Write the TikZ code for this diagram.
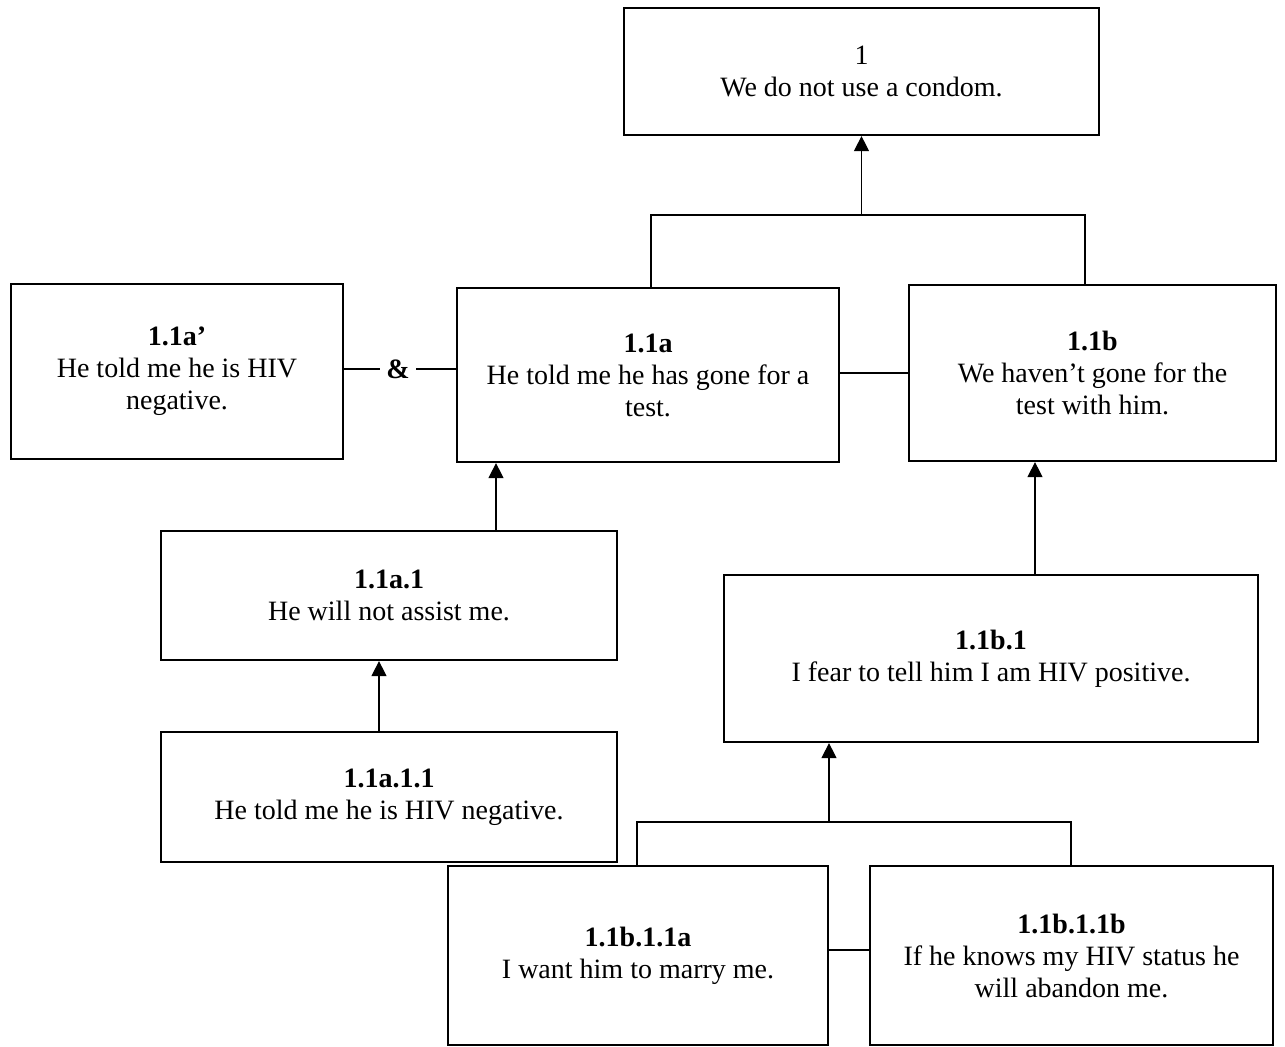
\documentclass[tikz,border=0pt]{standalone}
\usepackage{fontspec}
\setmainfont{Liberation Serif}
\usetikzlibrary{arrows.meta}
\begin{document}
\begin{tikzpicture}[x=0.5pt,y=-0.5pt,
  box/.style={draw=black,line width=1.1pt,rectangle,inner sep=0pt,align=center,
    font=\fontsize{14}{16}\selectfont},
  conn/.style={draw=black,line width=0.6pt},
  arr/.style={conn,-{Triangle[width=7.5pt,length=7.5pt]}}]
\useasboundingbox (0,0) rectangle (1285,1046);

% claim boxes
\node[box,minimum width=237.5pt,minimum height=63.5pt] (n1) at (861.5,71.5)
  {1\\We do not use a condom.};
\node[box,minimum width=166pt,minimum height=87.5pt] (ap) at (177,371.5)
  {\textbf{1.1a’}\\He told me he is HIV\\negative.};
\node[box,minimum width=191pt,minimum height=87pt] (a) at (648,375)
  {\textbf{1.1a}\\He told me he has gone for a\\test.};
\node[box,minimum width=183.5pt,minimum height=88pt] (b) at (1092.5,373)
  {\textbf{1.1b}\\We haven’t gone for the\\test with him.};
\node[box,minimum width=228pt,minimum height=64.5pt] (a1) at (389,595.5)
  {\textbf{1.1a.1}\\He will not assist me.};
\node[box,minimum width=228pt,minimum height=65pt] (a11) at (389,797)
  {\textbf{1.1a.1.1}\\He told me he is HIV negative.};
\node[box,minimum width=267pt,minimum height=83.5pt] (b1) at (991,658.5)
  {\textbf{1.1b.1}\\I fear to tell him I am HIV positive.};
\node[box,minimum width=190pt,minimum height=89.5pt] (b11a) at (638,955.5)
  {\textbf{1.1b.1.1a}\\I want him to marry me.};
\node[box,minimum width=201.5pt,minimum height=89.5pt] (b11b) at (1071.5,955.5)
  {\textbf{1.1b.1.1b}\\If he knows my HIV status he\\will abandon me.};

% conjunction sign between 1.1a' and 1.1a
\node[inner xsep=3pt,inner ysep=0pt,font=\fontsize{14}{16}\selectfont\bfseries] (amp) at (398,369) {\&};

% helper positions for the connectors
\coordinate (j1) at (861.5,215);
\coordinate (j2) at (829,822);
\coordinate (xa) at (651,0);
\coordinate (xb) at (1085,0);
\coordinate (xa1) at (496,0);
\coordinate (xa11) at (379,0);
\coordinate (xb1) at (1035,0);
\coordinate (xl) at (637,0);
\coordinate (xr) at (1071,0);
\coordinate (yab) at (0,373);
\coordinate (ybot) at (0,950);

% 1.1a and 1.1b support 1
\draw[conn] (xa |- a.north) |- (j1) -| (xb |- b.north);
\draw[arr] (j1) -- (n1.south);

% 1.1a' & 1.1a, and 1.1a -- 1.1b
\draw[conn] (ap.east |- amp.west) -- (amp.west);
\draw[conn] (amp.east) -- (a.west |- amp.east);
\draw[conn] (a.east |- yab) -- (b.west |- yab);

% left chain
\draw[arr] (xa1 |- a1.north) -- (xa1 |- a.south);
\draw[arr] (xa11 |- a11.north) -- (xa11 |- a1.south);

% right chain
\draw[arr] (xb1 |- b1.north) -- (xb1 |- b.south);
\draw[conn] (xl |- b11a.north) |- (j2) -| (xr |- b11b.north);
\draw[arr] (j2) -- (j2 |- b1.south);
\draw[conn] (b11a.east |- ybot) -- (b11b.west |- ybot);
\end{tikzpicture}
\end{document}
